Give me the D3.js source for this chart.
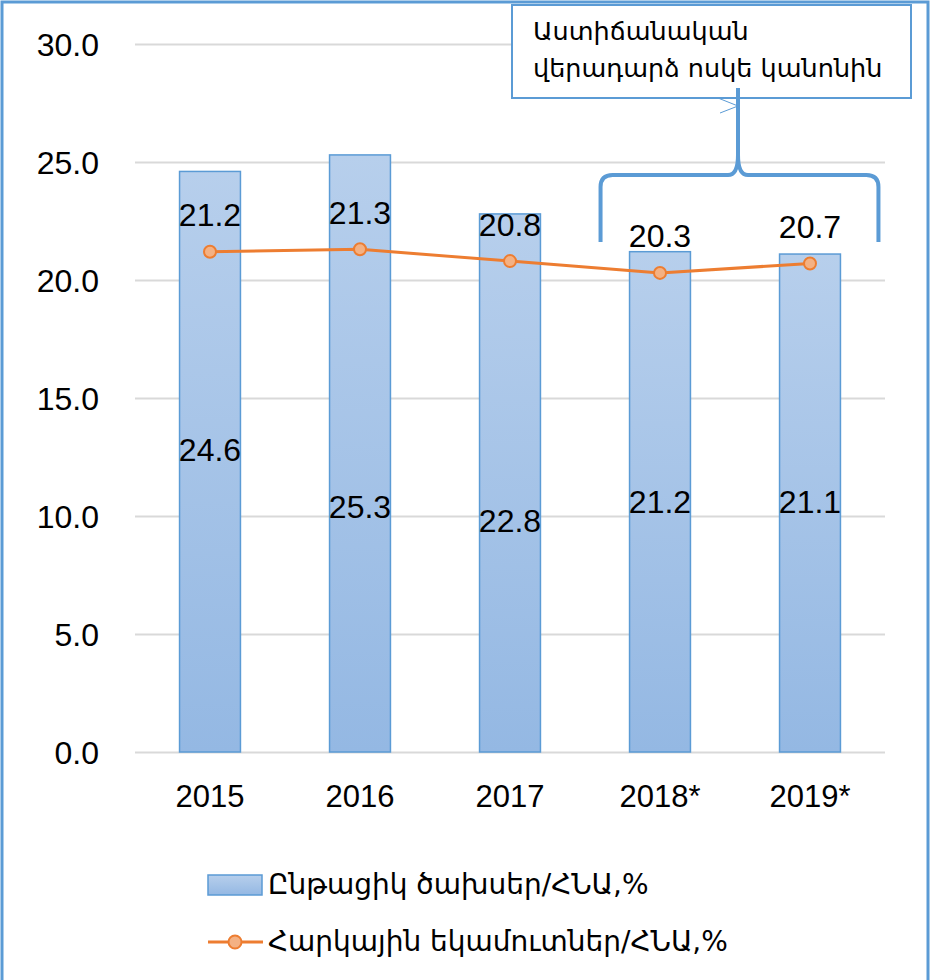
<!DOCTYPE html>
<html>
<head>
<meta charset="utf-8">
<script src="https://cdn.jsdelivr.net/npm/d3@7"></script>
<style>
  body { margin: 0; background: #fff; }
  svg { display: block; }
  .num { font-family: "Liberation Sans", Arial, sans-serif; font-size: 32px; fill: #000; }
  .arm { font-family: "DejaVu Sans", "Noto Sans", sans-serif; font-size: 25.5px; fill: #000; }
  .legend-text { font-size: 28px; }
  .axis-x .num { font-size: 31px; }
</style>
</head>
<body>
<div id="chart"></div>
<script>
var years = ["2015", "2016", "2017", "2018*", "2019*"],
    spending = [24.6, 25.3, 22.8, 21.2, 21.1],
    taxes = [21.2, 21.3, 20.8, 20.3, 20.7],
    yTicks = [0, 5, 10, 15, 20, 25, 30],
    seriesNames = ["Ընթացիկ ծախսեր/ՀՆԱ,%", "Հարկային եկամուտներ/ՀՆԱ,%"],
    noteLines = ["Աստիճանական", "վերադարձ ոսկե կանոնին"];

// where the bar value labels sit (moved by hand in the original), in axis units
var barLabelAt = [12.8, 10.4, 9.8, 10.6, 10.6];

var width = 932,
    height = 980,
    blue = "#5b9bd5",
    orange = "#ed7d31";

var svg = d3.select("#chart").append("svg")
    .attr("width", width)
    .attr("height", height);

var grad = svg.append("defs").append("linearGradient")
    .attr("id", "barGrad")
    .attr("x1", 0).attr("y1", 0).attr("x2", 0).attr("y2", 1);
grad.append("stop").attr("offset", "0%").attr("stop-color", "#b7cfec");
grad.append("stop").attr("offset", "100%").attr("stop-color", "#94b8e3");

var x = d3.scaleBand()
    .domain(years)
    .range([135, 885])
    .paddingInner(0.594)
    .paddingOuter(0.297);

var y = d3.scaleLinear()
    .domain([0, 30])
    .range([752, 44]);

var cx = function(i) { return x(years[i]) + x.bandwidth() / 2; };

// gridlines + y labels
svg.append("g")
    .attr("class", "axis axis-y")
    .attr("transform", "translate(135,0)")
    .call(d3.axisLeft(y).tickValues(yTicks).tickSizeInner(-750).tickSizeOuter(0).tickPadding(36).tickFormat(d3.format(".1f")))
    .call(function(g) {
      g.select(".domain").remove();
      g.selectAll(".tick line").attr("stroke", "#d9d9d9").attr("stroke-width", 2);
      g.selectAll(".tick text").attr("class", "num").attr("font-size", null).attr("font-family", null).attr("dy", "0.36em");
    });

// bars
svg.selectAll(".bar")
    .data(spending)
  .enter().append("rect")
    .attr("class", "bar")
    .attr("x", function(d, i) { return x(years[i]); })
    .attr("y", function(d) { return y(d); })
    .attr("width", x.bandwidth())
    .attr("height", function(d) { return y(0) - y(d); })
    .attr("fill", "url(#barGrad)")
    .attr("stroke", blue)
    .attr("stroke-width", 1.5);

svg.selectAll(".bar-label")
    .data(spending)
  .enter().append("text")
    .attr("class", "num")
    .attr("x", function(d, i) { return cx(i); })
    .attr("y", function(d, i) { return y(barLabelAt[i]); })
    .attr("dy", "0.36em")
    .attr("text-anchor", "middle")
    .text(function(d) { return d.toFixed(1); });

// x labels
svg.append("g")
    .attr("class", "axis axis-x")
    .attr("transform", "translate(0,752)")
    .call(d3.axisBottom(x).tickSize(0).tickPadding(33))
    .call(function(g) {
      g.select(".domain").remove();
      g.selectAll(".tick text").attr("class", "num").attr("font-size", null).attr("font-family", null).attr("dy", "0.71em");
    });

// line
var line = d3.line()
    .x(function(d, i) { return cx(i); })
    .y(function(d) { return y(d); });

svg.append("path")
    .datum(taxes)
    .attr("fill", "none")
    .attr("stroke", orange)
    .attr("stroke-width", 3)
    .attr("d", line);

svg.selectAll(".dot")
    .data(taxes)
  .enter().append("circle")
    .attr("cx", function(d, i) { return cx(i); })
    .attr("cy", function(d) { return y(d); })
    .attr("r", 6)
    .attr("fill", "#f4b183")
    .attr("stroke", orange)
    .attr("stroke-width", 2);

svg.selectAll(".line-label")
    .data(taxes)
  .enter().append("text")
    .attr("class", "num")
    .attr("x", function(d, i) { return cx(i); })
    .attr("y", function(d) { return y(d) - 37; })
    .attr("dy", "0.36em")
    .attr("text-anchor", "middle")
    .text(function(d) { return d.toFixed(1); });

// brace over the last two years
var bl = x("2018*") - 29,
    br = x("2019*") + x.bandwidth() + 38,
    bm = 738,
    bTop = 175,
    bBot = 242;
svg.append("path")
    .attr("fill", "none")
    .attr("stroke", blue)
    .attr("stroke-width", 4)
    .attr("d", "M" + bl + "," + bBot + " L" + bl + "," + (bTop + 12) +
      " Q" + bl + "," + bTop + " " + (bl + 12) + "," + bTop +
      " L" + (bm - 10) + "," + bTop +
      " Q" + bm + "," + bTop + " " + bm + "," + (bTop - 20) +
      " L" + bm + "," + 88 +
      " M" + bm + "," + (bTop - 20) +
      " Q" + bm + "," + bTop + " " + (bm + 10) + "," + bTop +
      " L" + (br - 12) + "," + bTop +
      " Q" + br + "," + bTop + " " + br + "," + (bTop + 12) +
      " L" + br + "," + bBot);

// annotation box
svg.append("rect")
    .attr("x", 512).attr("y", 5)
    .attr("width", 399).attr("height", 93)
    .attr("fill", "#fff")
    .attr("stroke", blue)
    .attr("stroke-width", 2);

svg.append("path")
    .attr("fill", "none")
    .attr("stroke", blue)
    .attr("stroke-width", 1)
    .attr("d", "M718,98 L738,106 L720,113");

svg.append("line")
    .attr("x1", bm).attr("x2", bm)
    .attr("y1", 88).attr("y2", 110)
    .attr("stroke", blue)
    .attr("stroke-width", 4);

svg.selectAll(".note")
    .data(noteLines)
  .enter().append("text")
    .attr("class", "arm")
    .attr("x", 533)
    .attr("y", function(d, i) { return 40 + i * 37; })
    .text(function(d) { return d; });

// legend
var legend = svg.append("g");
legend.append("rect")
    .attr("x", 208).attr("y", 875)
    .attr("width", 54).attr("height", 20)
    .attr("fill", "url(#barGrad)")
    .attr("stroke", blue)
    .attr("stroke-width", 1.5);
legend.append("line")
    .attr("x1", 208).attr("x2", 263)
    .attr("y1", 942).attr("y2", 942)
    .attr("stroke", orange)
    .attr("stroke-width", 3);
legend.append("circle")
    .attr("cx", 235).attr("cy", 942).attr("r", 6.5)
    .attr("fill", "#f4b183")
    .attr("stroke", orange)
    .attr("stroke-width", 2);
legend.selectAll(".legend-text")
    .data(seriesNames)
  .enter().append("text")
    .attr("class", "arm legend-text")
    .attr("x", 268)
    .attr("y", function(d, i) { return 884 + i * 57; })
    .attr("dy", "0.36em")
    .text(function(d) { return d; });

// outer frame
svg.append("rect")
    .attr("x", 2).attr("y", 2)
    .attr("width", 926).attr("height", 990)
    .attr("fill", "none")
    .attr("stroke", blue)
    .attr("stroke-width", 3);
</script>
</body>
</html>
